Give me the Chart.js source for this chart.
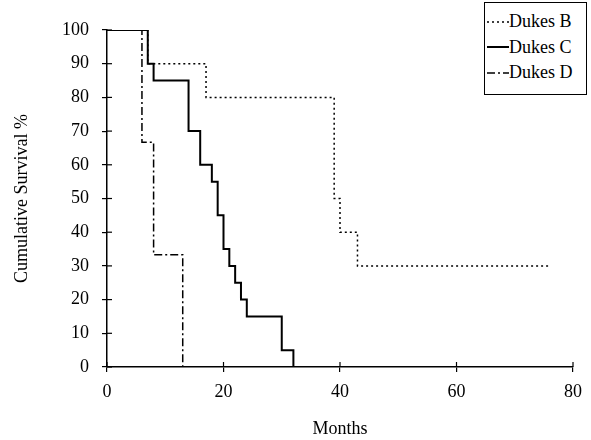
<!DOCTYPE html>
<html>
<head>
<meta charset="utf-8">
<script src="https://cdn.jsdelivr.net/npm/chart.js@4"></script>
<style>
  html, body { margin: 0; padding: 0; background: #fff; }
  #wrap { position: relative; width: 591px; height: 440px; }
  #legend {
    position: absolute; left: 484px; top: 2px; width: 103px; height: 93px;
    border: 1.5px solid #000; background: #fff; box-sizing: border-box;
    font-family: "Liberation Serif", serif; font-size: 18px; color: #000;
    padding-top: 6px;
  }
  #legend .row { display: flex; align-items: center; height: 25.5px; }
  #legend svg { width: 24px; height: 10px; flex: none; }
</style>
</head>
<body>
<div id="wrap">
  <canvas id="km" width="591" height="440"></canvas>
  <div id="legend"></div>
</div>
<script>
// survival data (months, cumulative survival %)
const seriesNames = ['Dukes B', 'Dukes C', 'Dukes D'];

const dukesBMonths = [0, 7, 17, 39, 40, 43, 76];
const dukesBSurv   = [100, 90, 80, 50, 40, 30, 30];

const dukesCMonths = [0, 7, 8, 14, 16, 18, 19, 20, 21, 22, 23, 24, 30, 32];
const dukesCSurv   = [100, 90, 85, 70, 60, 55, 45, 35, 30, 25, 20, 15, 5, 0];

const dukesDMonths = [0, 6, 8, 13];
const dukesDSurv   = [100, 66.7, 33.3, 0];

const xTicks = [0, 20, 40, 60, 80];
const yTicks = [0, 10, 20, 30, 40, 50, 60, 70, 80, 90, 100];

const dashes = [[2, 3], [], [8, 3, 2, 3]];
const widths = [1.5, 2, 1.5];

function pts(xs, ys) {
  return xs.map((x, i) => ({ x: x, y: ys[i] }));
}

const serif = "'Liberation Serif', 'Times New Roman', serif";

// little ticks that cross into the plot area
const innerTicks = {
  id: 'innerTicks',
  afterDraw(chart) {
    const ctx = chart.ctx;
    const xs = chart.scales.x, ys = chart.scales.y;
    ctx.save();
    ctx.strokeStyle = '#000';
    ctx.lineWidth = 1.2;
    xTicks.forEach(v => {
      const px = xs.getPixelForValue(v);
      ctx.beginPath();
      ctx.moveTo(px, ys.bottom);
      ctx.lineTo(px, ys.bottom - 5);
      ctx.stroke();
    });
    yTicks.forEach(v => {
      const py = ys.getPixelForValue(v);
      ctx.beginPath();
      ctx.moveTo(xs.left, py);
      ctx.lineTo(xs.left + 5, py);
      ctx.stroke();
    });
    ctx.restore();
  }
};

const chart = new Chart(document.getElementById('km'), {
  type: 'line',
  data: {
    datasets: [
      { label: seriesNames[0], data: pts(dukesBMonths, dukesBSurv), order: 1 },
      { label: seriesNames[1], data: pts(dukesCMonths, dukesCSurv), order: 0 },
      { label: seriesNames[2], data: pts(dukesDMonths, dukesDSurv), order: 2 }
    ].map((d, i) => Object.assign(d, {
      borderColor: '#000',
      borderWidth: widths[i],
      borderDash: dashes[i],
      stepped: 'before',
      pointRadius: 0,
      fill: false
    }))
  },
  options: {
    responsive: false,
    animation: false,
    layout: { padding: { top: 30, right: 8, left: 0, bottom: 0 } },
    plugins: { legend: { display: false }, tooltip: { enabled: false } },
    scales: {
      x: {
        type: 'linear', min: 0, max: 80,
        afterBuildTicks: s => { s.ticks = xTicks.map(v => ({ value: v })); },
        afterFit: s => { s.height = 73; },
        grid: { drawOnChartArea: false, tickLength: 5, color: '#000', lineWidth: 1.2 },
        border: { color: '#000', width: 1.5 },
        ticks: { color: '#000', font: { family: serif, size: 18 }, padding: 9 },
        title: { display: true, text: 'Months', color: '#000', font: { family: serif, size: 18 }, padding: { top: 4, bottom: 0 } }
      },
      y: {
        type: 'linear', min: 0, max: 100,
        afterBuildTicks: s => { s.ticks = yTicks.map(v => ({ value: v })); },
        afterFit: s => { s.width = 107; },
        grid: { drawOnChartArea: false, tickLength: 5, color: '#000', lineWidth: 1.2 },
        border: { color: '#000', width: 1.5 },
        ticks: { color: '#000', font: { family: serif, size: 18 }, padding: 13 },
        title: { display: true, text: 'Cumulative Survival %', color: '#000', font: { family: serif, size: 18 }, padding: { top: 11, bottom: 4 } }
      }
    }
  },
  plugins: [innerTicks]
});

// boxed legend in the top right corner
const legend = document.getElementById('legend');
chart.data.datasets.forEach((d, i) => {
  const row = document.createElement('div');
  row.className = 'row';
  const dash = dashes[i].length ? ` stroke-dasharray="${dashes[i].join(' ')}"` : '';
  row.innerHTML = `<svg viewBox="0 0 24 10"><line x1="2" y1="5" x2="24" y2="5" stroke="#000" stroke-width="${widths[i]}"${dash}/></svg><span>${d.label}</span>`;
  legend.appendChild(row);
});
</script>
</body>
</html>
